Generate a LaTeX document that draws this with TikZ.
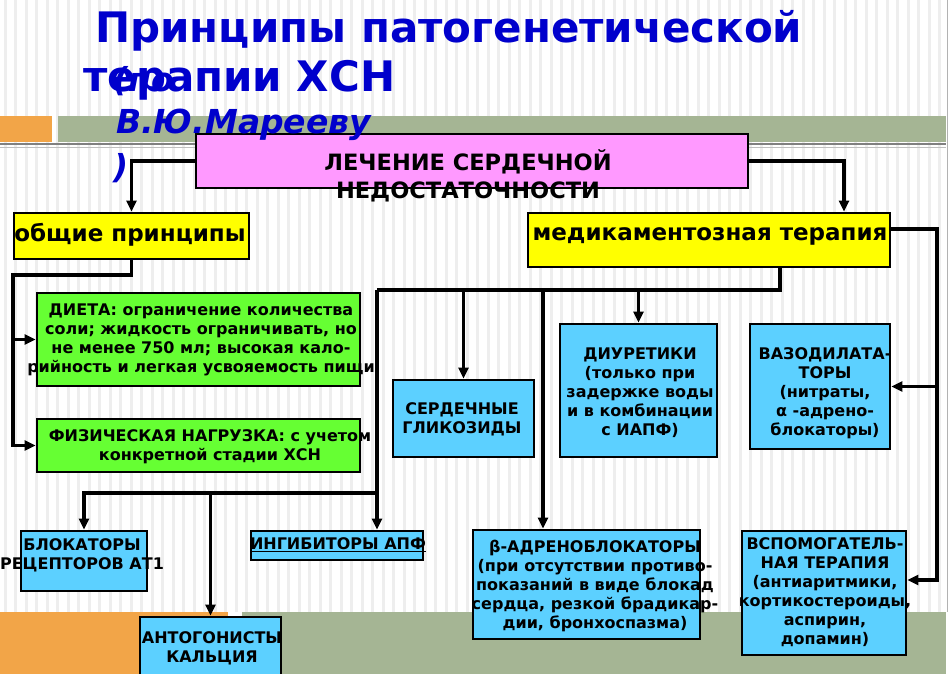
\documentclass[tikz,border=0pt]{standalone}
\usepackage{fontspec}
\setmainfont{DejaVu Sans}
\usetikzlibrary{arrows.meta,positioning}
\definecolor{titleblue}{RGB}{0,0,204}
\definecolor{boxpink}{RGB}{255,153,255}
\definecolor{boxyellow}{RGB}{255,255,0}
\definecolor{boxgreen}{RGB}{102,255,51}
\definecolor{boxcyan}{RGB}{92,208,255}
\definecolor{barorange}{RGB}{242,165,72}
\definecolor{bargreen}{RGB}{165,181,148}
\definecolor{stripe}{RGB}{238,238,238}
\tikzset{
  box/.style={draw=black, line width=2.8pt, inner sep=0pt},
  txt/.style={font=\bfseries\fontsize{16}{19}\selectfont, align=center, inner sep=0pt},
  link/.style={line width=3.4pt, -{Triangle[length=11pt,width=10pt]}},
  bus/.style={line width=3.4pt},
  title/.style={anchor=base west, inner sep=0pt, text=titleblue}
}
\begin{document}
\begin{tikzpicture}[x=1pt,y=-1pt]
  \useasboundingbox (0,0) rectangle (950,674);
  % background
  \fill[white] (0,0) rectangle (950,674);
  \foreach \x in {0,...,89}
    \draw[stripe, line width=3pt] (5+10.5*\x,0) -- (5+10.5*\x,612);
  \fill[barorange] (0,116) rectangle (52,142);
  \fill[bargreen] (58,116) rectangle (946,142);
  \draw[gray, line width=1.2pt] (0,144) -- (946,144);
  \draw[gray!50, line width=1pt] (0,147) -- (946,147);
  \fill[barorange] (0,612) rectangle (228,674);
  \fill[bargreen] (242,612) rectangle (946,674);
  \draw[gray!60, line width=1pt] (947,0) -- (947,612);

  % boxes
  \node[box, fill=boxpink, minimum width=552pt, minimum height=54pt] (top) at (472,161) {};
  \node[box, fill=boxyellow, minimum width=235pt, minimum height=46pt] (general) at (131.5,236) {};
  \node[box, fill=boxyellow, minimum width=362pt, minimum height=54pt] (drugs) at (709,240) {};
  \node[box, fill=boxgreen, minimum width=323pt, minimum height=93pt] (diet) at (198.5,339.5) {};
  \node[box, fill=boxgreen, minimum width=323pt, minimum height=53pt] (phys) at (198.5,445.5) {};
  \node[box, fill=boxcyan, minimum width=141pt, minimum height=77pt] (glyc) at (463.5,418.5) {};
  \node[box, fill=boxcyan, minimum width=157pt, minimum height=133pt] (diur) at (638.5,390.5) {};
  \node[box, fill=boxcyan, minimum width=140pt, minimum height=125pt] (vaso) at (820,386.5) {};
  \node[box, fill=boxcyan, minimum width=126pt, minimum height=60pt] (at1) at (84,561) {};
  \node[box, fill=boxcyan, minimum width=172pt, minimum height=29pt] (apf) at (337,545.5) {};
  \node[box, fill=boxcyan, minimum width=141pt, minimum height=63pt] (calc) at (210.5,648.5) {};
  \node[box, fill=boxcyan, minimum width=227pt, minimum height=109pt] (beta) at (586.5,584.5) {};
  \node[box, fill=boxcyan, minimum width=164pt, minimum height=124pt] (aux) at (824,593) {};

  % connectors
  \coordinate (gbend) at (13,275);
  \coordinate (dbus) at (377,290);
  \coordinate (lbus) at (377,493);
  \coordinate (rtop) at (937,229);
  \coordinate (btop) at ([xshift=-43.5pt]beta.north);
  \draw[link] (top.west) -| (general.north);
  \draw[link] (top.east) -| ([xshift=135pt]drugs.north);
  \draw[link] (general.south) |- (gbend) |- (phys.west);
  \draw[link] (gbend |- diet.west) -- (diet.west);
  \draw[bus] ([xshift=71pt]drugs.south) |- (dbus);
  \draw[link] (dbus) -- ([xshift=40pt]apf.north);
  \draw[link] (glyc.north |- dbus) -- (glyc.north);
  \draw[link] (diur.north |- dbus) -- (diur.north);
  \draw[link] (btop |- dbus) -- (btop);
  \draw[link] (lbus) -| (at1.north);
  \draw[link] (calc.north |- lbus) -- (calc.north);
  \draw[link] ([yshift=11pt]drugs.east) -- (rtop) |- ([yshift=13pt]aux.east);
  \draw[link] (rtop |- vaso.east) -- (vaso.east);

  % texts
  \node[txt, font=\bfseries\fontsize{22.5}{28}\selectfont] (top-t) at (468,176) {ЛЕЧЕНИЕ СЕРДЕЧНОЙ\\НЕДОСТАТОЧНОСТИ};
  \node[txt, font=\bfseries\fontsize{23}{23}\selectfont] (general-t) at (130,235) {общие принципы};
  \node[txt, font=\bfseries\fontsize{23}{23}\selectfont] (drugs-t) at (710,236) {медикаментозная терапия};
  \node[txt] (diet-t) at (201,339.5) {ДИЕТА: ограничение количества\\соли; жидкость ограничивать, но\\не менее 750 мл; высокая кало-\\рийность и легкая усвояемость пищи};
  \node[txt] (phys-t) at (210,446.5) {ФИЗИЧЕСКАЯ НАГРУЗКА: с учетом\\конкретной стадии ХСН};
  \node[txt] (glyc-t) at (462,419) {СЕРДЕЧНЫЕ\\ГЛИКОЗИДЫ};
  \node[txt] (diur-t) at (640,393) {ДИУРЕТИКИ\\(только при\\задержке воды\\и в комбинации\\с ИАПФ)};
  \node[txt] (vaso-t) at (825,393) {ВАЗОДИЛАТА-\\ТОРЫ\\(нитраты,\\α -адрено-\\блокаторы)};
  \node[txt] (at1-t) at (82,555) {БЛОКАТОРЫ\\РЕЦЕПТОРОВ АТ1};
  \node[txt] (apf-t) at (338,545) {\underline{ИНГИБИТОРЫ АПФ}};
  \node[txt] (calc-t) at (212,648.5) {АНТОГОНИСТЫ\\КАЛЬЦИЯ};
  \node[txt] (beta-t) at (595,586) {β-АДРЕНОБЛОКАТОРЫ\\(при отсутствии противо-\\показаний в виде блокад\\сердца, резкой брадикар-\\дии, бронхоспазма)};
  \node[txt] (aux-t) at (825,592.5) {ВСПОМОГАТЕЛЬ-\\НАЯ ТЕРАПИЯ\\(антиаритмики,\\кортикостероиды,\\аспирин,\\допамин)};

  % title
  \node[title, font=\bfseries\fontsize{42}{42}\selectfont] (title1) at (95,43) {Принципы патогенетической};
  \node[title, font=\bfseries\fontsize{42}{42}\selectfont] (title2) at (83,92) {терапии ХСН};
  \node[title, font=\bfseries\itshape\fontsize{33}{33}\selectfont] (by1) at (113,92) {(по};
  \node[title, font=\bfseries\itshape\fontsize{33}{33}\selectfont] (by2) at (116,134) {В.Ю.Марееву};
  \node[title, font=\bfseries\itshape\fontsize{33}{33}\selectfont] (by3) at (113,178) {)};
\end{tikzpicture}
\end{document}
